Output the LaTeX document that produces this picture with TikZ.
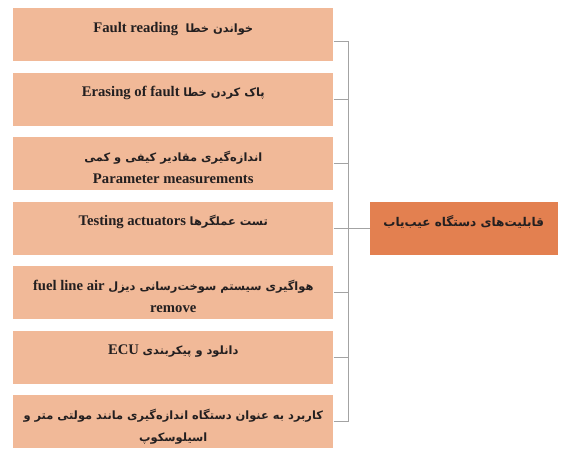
\documentclass[tikz,border=0pt]{standalone}
\usepackage{fontspec}
\setmainfont{Liberation Serif}
\newfontfamily\farsi[Script=Arabic,Scale=0.78]{DejaVu Sans}
\TeXXeTstate=1
\usetikzlibrary{positioning}
\definecolor{peach}{HTML}{F1B998}
\definecolor{rust}{HTML}{E38050}
\definecolor{wire}{HTML}{A3A3A3}
\definecolor{ink}{HTML}{231F20}
\newcommand{\fa}[1]{{\farsi #1}}
\tikzset{
item/.style={
  fill=peach,
  minimum width=240pt,
  minimum height=39.75pt,
  inner sep=0pt,
  align=center,
  text=ink,
  font=\fontsize{11}{16.5}\selectfont\bfseries
  },
oneline/.style={
  item,
  text height=8pt,
  text depth=11.75pt
  },
twoline/.style={
  item,
  text height=33pt,
  text depth=3pt
  },
capbox/.style={
  fill=rust,
  minimum width=141pt,
  minimum height=39.75pt,
  text height=8pt,
  text depth=10.5pt,
  inner sep=0pt,
  text=ink,
  font=\fontsize{11.6}{16.5}\selectfont\bfseries
  },
conn/.style={
  draw=wire,
  line width=0.75pt
  }
}
\begin{document}
\begin{tikzpicture}[node distance=8.25pt]
            \useasboundingbox (0,0) rectangle (420.75pt,-339.75pt);
            \node[oneline,anchor=north west] (b1) at (9.75pt,-6pt)
                {\beginR\fa{خواندن خطا}\ \ \beginL Fault reading\endL\endR};
            \node[oneline,below=of b1] (b2)
                {\beginR\fa{پاک کردن خطا} \beginL Erasing of fault\endL\endR};
            \node[twoline,below=of b2] (b3)
                {\beginR\fa{اندازه‌گیری مقادیر کیفی و کمی}\endR\\ Parameter measurements};
            \node[oneline,below=of b3] (b4)
                {\beginR\fa{تست عملگرها} \beginL Testing actuators\endL\endR};
            \node[twoline,below=of b4] (b5)
                {\beginR\fa{هواگیری سیستم سوخت‌رسانی دیزل} \beginL fuel line air\endL\endR\\ remove};
            \node[oneline,below=of b5] (b6)
                {\beginR\fa{دانلود و پیکربندی} \beginL ECU\endL\endR};
            \node[twoline,below=of b6] (b7)
                {\beginR\fa{کاربرد به عنوان دستگاه اندازه‌گیری مانند مولتی متر و}\endR\\ \beginR\fa{اسیلوسکوپ}\endR};
            \node[capbox,right=27pt of b4] (cap)
                {\beginR\fa{قابلیت‌های دستگاه عیب‌یاب}\endR};
            \coordinate (top) at ([yshift=-4.9pt]b1.east);
            \coordinate (bus) at ([xshift=11.25pt]top);
            \draw[conn] (top) -- (bus);
            \foreach \i in {2,...,7}
                \draw[conn] (b\i.east) -- (b\i.east -| bus);
            \draw[conn] (bus) -- (b7.east -| bus);
            \draw[conn] (b4.east -| bus) -- (cap.west);
        \end{tikzpicture}
\end{document}
